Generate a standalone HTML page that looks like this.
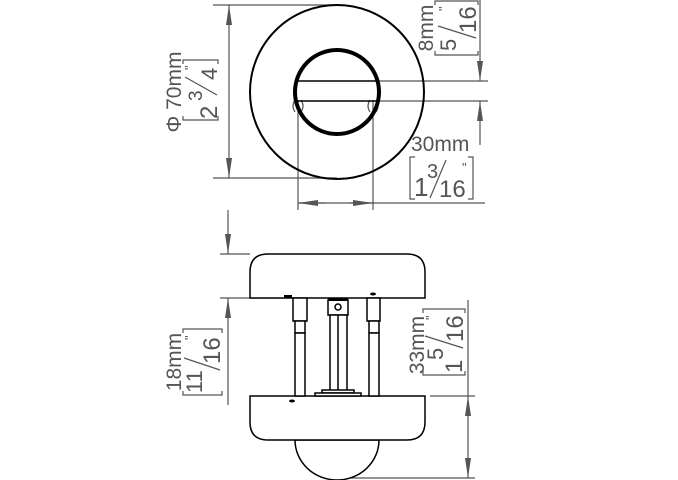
<!DOCTYPE html>
<html><head><style>html,body{margin:0;padding:0;background:#fff}svg{display:block}</style></head>
<body>
<svg width="678" height="480" viewBox="0 0 678 480" xmlns="http://www.w3.org/2000/svg" font-family="Liberation Sans, sans-serif">
<defs>
<marker id="a" viewBox="0 0 10 10" refX="10" refY="5" markerWidth="20" markerHeight="6" orient="auto-start-reverse" markerUnits="userSpaceOnUse" preserveAspectRatio="none"><path d="M0,0 L10,5 L0,10 z" fill="#555"/></marker>
</defs>
<!-- TOP VIEW -->
<g stroke="#555" stroke-width="1.2" fill="none">
<line x1="213" y1="5" x2="337" y2="5"/>
<line x1="213" y1="178" x2="337" y2="178"/>
<line x1="229" y1="5" x2="229" y2="178" marker-start="url(#a)" marker-end="url(#a)"/>
<line x1="378" y1="81" x2="488" y2="81"/>
<line x1="378" y1="101" x2="488" y2="101"/>
<line x1="480" y1="0" x2="480" y2="81" marker-end="url(#a)"/>
<line x1="480" y1="145" x2="480" y2="101" marker-end="url(#a)"/>
<line x1="298" y1="100" x2="298" y2="210"/>
<line x1="373" y1="100" x2="373" y2="210"/>
<line x1="298" y1="203" x2="485" y2="203"/>
<line x1="298" y1="203" x2="325" y2="203" marker-start="url(#a)"/>
<line x1="350" y1="203" x2="373" y2="203" marker-end="url(#a)"/>
<path d="M295 100 q-4 6 0 12 M301 100 q4 6 0 12 M370 100 q-4 6 0 12 M376 100 q4 6 0 12"/>
</g>
<circle cx="337" cy="92" r="87" fill="none" stroke="#000" stroke-width="2"/>
<circle cx="337" cy="92" r="42" fill="none" stroke="#000" stroke-width="4"/>
<line x1="298" y1="81" x2="376" y2="81" stroke="#000" stroke-width="1.5"/>
<line x1="298" y1="101" x2="376" y2="101" stroke="#000" stroke-width="1.5"/>
<g fill="#555" font-size="21">
<text transform="translate(181,92) rotate(-90)" text-anchor="middle">Φ 70mm</text>
<text transform="translate(433,28) rotate(-90)" text-anchor="middle">8mm</text>
<text x="411" y="151">30mm</text>
<text transform="translate(181,362) rotate(-90)" text-anchor="middle">18mm</text>
<text transform="translate(424,345) rotate(-90)" text-anchor="middle">33mm</text>
</g>
<!-- fractions -->
<g fill="#555" stroke="#555" stroke-width="1.2">
 <g transform="translate(218,90) rotate(-90)">
  <path d="M-26,-35 H-30 V0 H-26 M26,-35 H30 V0 H26" fill="none"/>
  <text x="-29" y="-1" font-size="24" stroke="none">2</text>
  <text x="-11" y="-16" font-size="19" stroke="none">3</text>
  <line x1="-5" y1="-1" x2="13" y2="-33"/>
  <text x="10" y="-1" font-size="22" stroke="none">4</text>
  <text x="20" y="-24" font-size="13" stroke="none">"</text>
 </g>
 <g transform="translate(478,28) rotate(-90)">
  <path d="M-23,-43 H-27 V0 H-23 M23,-43 H27 V0 H23" fill="none"/>
  <text x="-23" y="-22" font-size="22" stroke="none">5</text>
  <line x1="-10" y1="-2" x2="2" y2="-40"/>
  <text x="-5" y="-2" font-size="24" stroke="none">16</text>
  <text x="17" y="-30" font-size="13" stroke="none">"</text>
 </g>
 <g>
  <path d="M415,157 H410 V199 H415 M468,157 H473 V199 H468" fill="none"/>
  <text x="414" y="196" font-size="26" stroke="none">1</text>
  <text x="427" y="178" font-size="20" stroke="none">3</text>
  <line x1="430" y1="198" x2="446" y2="160"/>
  <text x="439" y="197" font-size="24" stroke="none">16</text>
  <text x="462" y="172" font-size="13" stroke="none">"</text>
 </g>
 <g transform="translate(222,362) rotate(-90)">
  <path d="M-29,-39 H-33 V0 H-29 M29,-39 H33 V0 H29" fill="none"/>
  <text x="-31" y="-20" font-size="22" stroke="none">11</text>
  <line x1="-8" y1="-2" x2="4" y2="-38"/>
  <text x="-2" y="-2" font-size="24" stroke="none">16</text>
  <text x="22" y="-28" font-size="13" stroke="none">"</text>
 </g>
 <g transform="translate(465,342) rotate(-90)">
  <path d="M-29,-42 H-33 V0 H-29 M29,-42 H33 V0 H29" fill="none"/>
  <text x="-31" y="-3" font-size="24" stroke="none">1</text>
  <text x="-18" y="-22" font-size="22" stroke="none">5</text>
  <line x1="-6" y1="-2" x2="6" y2="-40"/>
  <text x="0" y="-2" font-size="24" stroke="none">16</text>
  <text x="22" y="-30" font-size="13" stroke="none">"</text>
 </g>
</g>
<!-- SIDE VIEW -->
<g stroke="#555" stroke-width="1.2" fill="none">
<line x1="220" y1="254" x2="250" y2="254"/>
<line x1="220" y1="298" x2="280" y2="298"/>
<line x1="228" y1="210" x2="228" y2="254" marker-end="url(#a)"/>
<line x1="228" y1="405" x2="228" y2="298" marker-end="url(#a)"/>
<line x1="430" y1="396" x2="475" y2="396"/>
<line x1="340" y1="478" x2="475" y2="478"/>
<line x1="468" y1="300" x2="468" y2="396"/>
<line x1="468" y1="396" x2="468" y2="478" marker-start="url(#a)" marker-end="url(#a)"/>
</g>
<g stroke="#000" stroke-width="1.5" fill="#fff">
<path d="M295 440 A42 40 0 0 0 379 440 Z"/>
<path d="M250 298 V272 Q250 254 268 254 H407 Q425 254 425 272 V298 Z"/>
<path d="M250 396 V422 Q250 440 268 440 H407 Q425 440 425 422 V396 Z"/>
<rect x="293" y="298" width="14" height="23"/>
<rect x="295" y="321" width="10" height="12"/>
<rect x="295" y="333" width="10" height="63"/>
<rect x="367" y="298" width="13" height="23"/>
<rect x="369" y="321" width="10" height="12"/>
<rect x="369" y="333" width="10" height="63"/>
<rect x="328" y="300" width="20" height="15"/>
<circle cx="338" cy="307" r="3"/>
<rect x="330" y="315" width="17" height="77"/>
<line x1="338" y1="315" x2="338" y2="392"/>
<rect x="322" y="390" width="32" height="3"/>
<rect x="315" y="393" width="46" height="3"/>
</g>
<rect x="328" y="298" width="20" height="3" fill="#000"/>
<rect x="284" y="295" width="8" height="3" fill="#000"/>
<ellipse cx="373" cy="294" rx="3" ry="1.5" fill="#000"/>
<ellipse cx="292" cy="401" rx="3" ry="1.5" fill="#000"/>
</svg>
</body></html>
